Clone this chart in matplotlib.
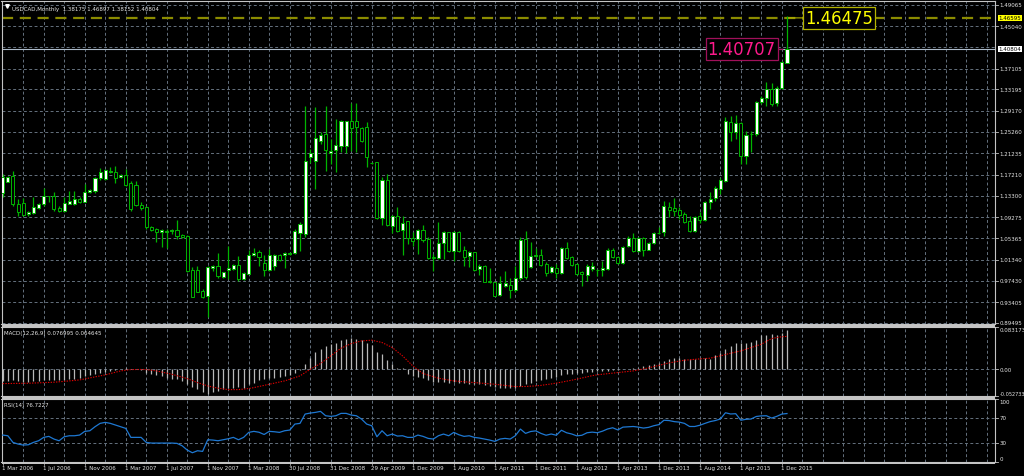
import matplotlib
matplotlib.use("Agg")
import matplotlib.pyplot as plt
import matplotlib.transforms as mtransforms
from matplotlib.patches import Rectangle

# ---------------- data ----------------
opens = [1.1376,1.1594,1.1694,1.1176,1.1195,1.0983,1.1014,1.1102,1.1170,1.1320,
 1.1332,1.1108,1.1039,1.1176,1.1176,1.1276,1.1220,1.1395,1.1420,1.1663,
 1.1644,1.1782,1.1769,1.1676,1.1719,1.1563,1.1532,1.1158,1.1114,1.0752,
 1.0708,1.0652,1.0646,1.0671,1.0684,1.0596,1.0571,0.9947,0.9941,0.9554,
 0.9461,0.9979,1.0010,0.9804,0.9935,0.9960,1.0035,0.9773,0.9872,1.0228,
 1.0272,1.0072,0.9947,1.0022,1.0222,1.0215,1.0240,1.0253,1.0634,1.0615,
 1.2050,1.1987,1.2350,1.2487,1.2131,1.2187,1.2262,1.2268,1.2724,1.2724,
 1.2593,1.2624,1.1950,1.1956,1.0908,1.1632,1.0771,1.0958,1.0690,1.0852,
 1.0546,1.0521,1.0696,1.0521,1.0178,1.0166,1.0440,1.0646,1.0290,1.0659,
 1.0316,1.0197,1.0272,0.9960,1.0022,0.9741,0.9710,0.9473,0.9648,0.9660,
 0.9561,0.9791,1.0521,1.0003,1.0197,1.0228,1.0053,0.9897,0.9972,0.9885,
 1.0347,1.0178,1.0053,0.9897,0.9848,0.9960,0.9941,0.9947,0.9960,1.0322,
 1.0191,1.0072,1.0384,1.0534,1.0303,1.0540,1.0322,1.0446,1.0634,1.0646,
 1.1126,1.1102,1.1064,1.0989,1.0852,1.0665,1.0946,1.0883,1.1208,1.1283,
 1.1457,1.1601,1.2705,1.2518,1.2686,1.2081,1.2480,1.2487,1.3092,1.3154,
 1.3329,1.3060,1.3347,1.38175]
highs = [1.1738,1.1707,1.1788,1.1270,1.1282,1.1052,1.1301,1.1189,1.1470,1.1332,
 1.1395,1.1145,1.1301,1.1426,1.1414,1.1301,1.1551,1.1457,1.1682,1.1844,
 1.1831,1.1863,1.1881,1.1738,1.1831,1.1601,1.1601,1.1208,1.1133,1.0771,
 1.0733,1.0715,1.0708,1.0708,1.0883,1.0615,1.0596,0.9991,1.0022,0.9586,
 1.0022,1.0035,1.0259,0.9910,1.0384,1.0053,1.0209,0.9910,1.0322,1.0347,
 1.0322,1.0222,1.0334,1.0240,1.0240,1.0284,1.0272,1.0708,1.0846,1.3016,
 1.2206,1.2986,1.2517,1.3005,1.2393,1.2767,1.2748,1.2736,1.3067,1.3067,
 1.2611,1.2717,1.1969,1.1969,1.1676,1.1738,1.0970,1.1114,1.0958,1.0864,
 1.0646,1.0709,1.0783,1.0553,1.0241,1.0846,1.0677,1.0659,1.0677,1.0677,
 1.0384,1.0303,1.0284,1.0053,1.0035,0.9972,0.9723,0.9835,0.9928,0.9785,
 1.0022,1.0553,1.0677,1.0459,1.0347,1.0334,1.0085,1.0022,1.0053,1.0365,
 1.0459,1.0209,1.0072,0.9928,1.0053,1.0085,0.9960,1.0116,1.0347,1.0347,
 1.0209,1.0397,1.0584,1.0627,1.0553,1.0553,1.0471,1.0646,1.0740,1.1239,
 1.1220,1.1289,1.1114,1.1021,1.0958,1.0958,1.1021,1.1239,1.1395,1.1507,
 1.1657,1.2798,1.2829,1.2842,1.2705,1.2549,1.2549,1.3110,1.3192,1.3466,
 1.3441,1.3391,1.3859,1.46897]
lows = [1.1301,1.1582,1.1145,1.0958,1.0958,1.0958,1.0989,1.1083,1.1145,1.1220,
 1.1039,1.1033,1.1020,1.1170,1.1158,1.1201,1.1208,1.1376,1.1376,1.1632,
 1.1632,1.1757,1.1563,1.1657,1.1520,1.1052,1.1145,1.1064,1.0708,1.0677,
 1.0471,1.0365,1.0347,1.0615,1.0521,1.0534,0.9910,0.9430,0.9523,0.9417,
 0.9055,0.9929,0.9785,0.9785,0.9773,0.9941,0.9729,0.9760,0.9860,1.0209,
 1.0010,0.9822,0.9916,0.9947,1.0116,0.9979,1.0222,1.0240,1.0303,1.0559,
 1.1944,1.1457,1.2299,1.1800,1.1925,1.1775,1.2144,1.2131,1.2174,1.2144,
 1.2343,1.1863,1.1919,1.0896,1.0783,1.0758,1.0634,1.0646,1.0228,1.0428,
 1.0397,1.0241,1.0459,1.0147,0.9928,1.0147,1.0147,1.0272,1.0116,1.0272,
 1.0022,0.9991,0.9928,0.9848,0.9710,0.9698,0.9448,0.9461,0.9617,0.9411,
 0.9536,0.9760,0.9772,0.9985,1.0178,1.0022,0.9835,0.9879,0.9785,0.9866,
 1.0147,1.0022,0.9848,0.9648,0.9741,0.9928,0.9835,0.9822,0.9947,1.0160,
 1.0053,1.0053,1.0365,1.0284,1.0272,1.0197,1.0309,1.0428,1.0609,1.0584,
 1.0927,1.0946,1.0896,1.0821,1.0646,1.0646,1.0821,1.0852,1.1083,1.1239,
 1.1364,1.1582,1.2362,1.2393,1.1925,1.1925,1.2143,1.2455,1.3048,1.3017,
 1.3004,1.3017,1.3329,1.38152]
closes = [1.1676,1.1682,1.1176,1.1020,1.0977,1.1033,1.1114,1.1170,1.1332,1.1326,
 1.1083,1.1039,1.1189,1.1232,1.1270,1.1214,1.1407,1.1432,1.1670,1.1769,
 1.1813,1.1788,1.1670,1.1726,1.1538,1.1083,1.1164,1.1108,1.0746,1.0690,
 1.0659,1.0690,1.0677,1.0690,1.0571,1.0553,0.9929,0.9442,0.9536,0.9442,
 0.9991,1.0010,0.9822,0.9897,0.9972,1.0041,0.9773,0.9885,1.0228,1.0266,
 1.0184,0.9947,1.0222,1.0222,1.0134,1.0253,1.0253,1.0677,1.0802,1.1987,
 1.2125,1.2412,1.2473,1.2187,1.2174,1.2281,1.2730,1.2724,1.2599,1.2624,
 1.2362,1.2050,1.1944,1.0915,1.1632,1.0783,1.0946,1.0677,1.0821,1.0540,
 1.0484,1.0696,1.0509,1.0166,1.0172,1.0440,1.0646,1.0303,1.0659,1.0303,
 1.0191,1.0272,0.9947,1.0022,0.9723,0.9710,0.9461,0.9698,0.9692,0.9561,
 0.9791,1.0509,0.9804,1.0203,1.0222,1.0041,0.9885,0.9997,0.9879,1.0347,
 1.0166,1.0041,0.9866,0.9860,1.0022,1.0022,0.9947,0.9979,1.0322,1.0178,
 1.0072,1.0378,1.0534,1.0303,1.0540,1.0322,1.0446,1.0634,1.0640,1.1145,
 1.1070,1.1052,1.0977,1.0833,1.0665,1.0927,1.0883,1.1208,1.1270,1.1470,
 1.1626,1.2724,1.2518,1.2686,1.2081,1.2468,1.2493,1.3092,1.3154,1.3329,
 1.3048,1.3347,1.3828,1.40804]

macd_main = [-0.0230,-0.0230,-0.0217,-0.0230,-0.0243,-0.0243,-0.0230,-0.0230,-0.0217,-0.0210,
 -0.0217,-0.0217,-0.0204,-0.0197,-0.0184,-0.0164,-0.0131,-0.0112,-0.0085,-0.0066,
 -0.0046,-0.0033,-0.0020,0.0000,0.0020,0.0013,0.0000,-0.0020,-0.0066,-0.0099,
 -0.0112,-0.0138,-0.0164,-0.0184,-0.0197,-0.0230,-0.0283,-0.0348,-0.0394,-0.0440,
 -0.0480,-0.0440,-0.0430,-0.0394,-0.0374,-0.0361,-0.0348,-0.0361,-0.0296,-0.0263,
 -0.0210,-0.0197,-0.0177,-0.0164,-0.0151,-0.0131,-0.0112,-0.0066,-0.0020,0.0112,
 0.0230,0.0348,0.0394,0.0460,0.0506,0.0526,0.0572,0.0591,0.0611,0.0591,
 0.0572,0.0526,0.0480,0.0348,0.0309,0.0177,0.0112,0.0033,0.0020,-0.0085,
 -0.0131,-0.0151,-0.0177,-0.0217,-0.0243,-0.0243,-0.0243,-0.0263,-0.0243,-0.0263,
 -0.0263,-0.0283,-0.0283,-0.0296,-0.0309,-0.0329,-0.0348,-0.0361,-0.0361,-0.0361,
 -0.0361,-0.0330,-0.0300,-0.0270,-0.0240,-0.0210,-0.0190,-0.0170,-0.0150,-0.0120,
 -0.0100,-0.0090,-0.0080,-0.0080,-0.0060,-0.0050,-0.0040,-0.0033,-0.0033,-0.0020,
 -0.0013,0.0000,0.0013,0.0020,0.0033,0.0066,0.0079,0.0099,0.0131,0.0164,
 0.0197,0.0217,0.0217,0.0210,0.0197,0.0197,0.0210,0.0217,0.0210,0.0276,
 0.0329,0.0394,0.0460,0.0526,0.0512,0.0526,0.0539,0.0578,0.0670,0.0670,
 0.0690,0.0670,0.0723,0.076995]
macd_signal = [-0.0283,-0.0282,-0.0281,-0.0279,-0.0277,-0.0276,-0.0272,-0.0268,-0.0264,-0.0260,
 -0.0256,-0.0248,-0.0240,-0.0230,-0.0220,-0.0210,-0.0190,-0.0170,-0.0151,-0.0131,
 -0.0112,-0.0086,-0.0060,-0.0033,-0.0020,-0.0007,-0.0005,-0.0005,-0.0007,-0.0020,
 -0.0033,-0.0055,-0.0077,-0.0099,-0.0127,-0.0156,-0.0184,-0.0224,-0.0263,-0.0296,
 -0.0329,-0.0352,-0.0374,-0.0388,-0.0401,-0.0401,-0.0401,-0.0391,-0.0381,-0.0362,
 -0.0340,-0.0318,-0.0296,-0.0274,-0.0252,-0.0230,-0.0197,-0.0164,-0.0131,-0.0066,
 0.0000,0.0056,0.0112,0.0188,0.0263,0.0339,0.0414,0.0460,0.0506,0.0532,
 0.0558,0.0565,0.0572,0.0549,0.0526,0.0477,0.0427,0.0345,0.0263,0.0165,
 0.0066,-0.0010,-0.0085,-0.0116,-0.0146,-0.0177,-0.0195,-0.0212,-0.0230,-0.0238,
 -0.0246,-0.0255,-0.0263,-0.0271,-0.0280,-0.0288,-0.0296,-0.0308,-0.0319,-0.0331,
 -0.0342,-0.0342,-0.0340,-0.0335,-0.0328,-0.0318,-0.0305,-0.0290,-0.0273,-0.0255,
 -0.0236,-0.0216,-0.0195,-0.0173,-0.0150,-0.0127,-0.0110,-0.0099,-0.0088,-0.0077,
 -0.0066,-0.0055,-0.0044,-0.0033,-0.0013,0.0006,0.0026,0.0051,0.0075,0.0100,
 0.0125,0.0142,0.0160,0.0177,0.0186,0.0195,0.0204,0.0210,0.0217,0.0240,
 0.0263,0.0289,0.0315,0.0338,0.0361,0.0394,0.0427,0.0460,0.0493,0.0548,
 0.0604,0.0624,0.0640,0.064645]
rsi_values = [42.3,41.2,30.6,27.9,26.3,26.8,30.6,33.2,38.6,40.2,
 35.9,33.2,39.6,41.2,41.2,42.3,48.2,49.2,55.6,61.0,
 62.6,61.0,58.3,55.6,53.0,38.6,38.6,38.6,30.6,29.5,
 29.5,29.5,29.5,29.5,29.0,25.2,18.3,14.0,17.2,16.2,
 34.8,34.3,33.2,34.8,36.4,38.6,34.8,38.6,46.6,48.2,
 46.8,43.2,48.2,47.6,46.6,49.2,50.3,59.9,61.0,75.9,
 77.5,78.6,80.2,73.2,72.2,73.2,77.0,77.0,74.3,73.2,
 67.9,59.9,57.2,39.6,49.2,41.2,43.9,40.7,41.2,38.6,
 38.6,42.3,40.2,37.0,35.9,41.2,43.9,41.2,46.6,42.8,
 40.2,41.2,38.6,37.5,35.9,34.3,32.2,35.9,37.0,35.9,
 41.2,51.9,45.0,48.0,49.0,45.0,42.0,44.0,42.0,50.0,
 46.0,44.0,41.0,42.0,46.0,47.0,46.0,48.5,52.0,54.0,
 50.5,55.0,55.5,56.0,55.0,53.5,54.6,57.2,59.0,66.0,
 65.5,63.8,63.0,61.0,56.0,56.0,58.0,61.0,63.8,65.5,
 68.0,78.0,76.0,76.5,66.0,67.5,68.0,72.0,73.0,73.2,
 69.5,72.2,75.9,76.7227]

date_labels = ["1 Mar 2006", "1 Jul 2006", "1 Nov 2006", "1 Mar 2007", "1 Jul 2007",
               "1 Nov 2007", "1 Mar 2008", "30 Jul 2008", "31 Dec 2008", "29 Apr 2009",
               "1 Dec 2009", "1 Aug 2010", "1 Apr 2011", "1 Dec 2011", "1 Aug 2012",
               "1 Apr 2013", "1 Dec 2013", "1 Aug 2014", "1 Apr 2015", "1 Dec 2015"]
price_ticks = [1.49065, 1.45040, 1.37105, 1.33195, 1.29170, 1.25260, 1.21235, 1.17210,
               1.13300, 1.09275, 1.05365, 1.01340, 0.97430, 0.93405, 0.89495]
price_grid = [1.49065, 1.45040, 1.41130, 1.37105, 1.33195, 1.29170, 1.25260, 1.21235,
              1.17210, 1.13300, 1.09275, 1.05365, 1.01340, 0.97430, 0.93405, 0.89495]
macd_ticks = [0.083173, 0.00, -0.052733]
rsi_ticks = [100, 70, 30, 0]
ask_line = 1.46595
bid_line = 1.40804
high_label = 1.46475
low_label = 1.40707
header = "USDCAD,Monthly  1.38175 1.46897 1.38152 1.40804"
macd_title = "MACD(12,26,9) 0.076995 0.064645"
rsi_title = "RSI(14) 76.7227"

# ---------------- style ----------------
W, H = 1024, 477
BG = "#000000"
GRID = "#65717e"
FRAME = "#c4c4c4"
GREEN = "#00b400"
TXT = "#e6e6e6"
FONT = "DejaVu Sans"
SMALL = 4.0
plt.rcParams["font.family"] = FONT

fig = plt.figure(figsize=(W / 100, H / 100), dpi=100, facecolor=BG)

def rect(x0, y0, x1, y1):
    return [x0 / W, 1 - y1 / H, (x1 - x0) / W, (y1 - y0) / H]

ax = fig.add_axes(rect(1.5, 1.5, 995, 325))
axm = fig.add_axes(rect(1.5, 328, 995, 397), sharex=ax)
axr = fig.add_axes(rect(1.5, 400, 995, 462.5), sharex=ax)

n = len(closes)
xs = list(range(n))
x_left = (1.5 - 2.7) / 5.126
x_right = (995 - 2.7) / 5.126

for a in (ax, axm, axr):
    a.set_facecolor(BG)
    a.set_xlim(x_left, x_right)
    a.tick_params(left=False, right=False, bottom=False, top=False,
                  labelleft=False, labelbottom=False)
    for s in a.spines.values():
        s.set_color(FRAME)
        s.set_linewidth(0.8)
    for k in range(4, int(x_right) + 1, 4):
        a.axvline(k, color=GRID, lw=0.7, ls=(0, (3, 2.5)), zorder=0)

ax.set_ylim(0.89305, 1.49851)
axm.set_ylim(-0.052733, 0.083173)
axr.set_ylim(0, 100)

for p in price_grid:
    ax.axhline(p, color=GRID, lw=0.7, ls=(0, (3, 2.5)), zorder=0)
axm.axhline(0.0, color=GRID, lw=0.7, ls=(0, (3, 2.5)), zorder=0)
for lv in (70, 30):
    axr.axhline(lv, color=GRID, lw=0.7, ls=(0, (3, 2.5)), zorder=0)

# candles
ax.vlines(xs, lows, highs, color=GREEN, lw=0.9, zorder=2)
body_w = 0.6
min_h = 0.0009
for i in xs:
    o, c = opens[i], closes[i]
    lo, hi = min(o, c), max(o, c)
    if hi - lo < min_h:
        mid = (hi + lo) / 2
        lo, hi = mid - min_h / 2, mid + min_h / 2
    face = "#ffffff" if c >= o else "#000000"
    ax.add_patch(Rectangle((i - body_w / 2, lo), body_w, hi - lo, facecolor=face,
                           edgecolor=GREEN, lw=0.7, zorder=3))

# price lines
ax.axhline(ask_line, color="#8c8c00", lw=1.6, ls=(0, (5, 3)), zorder=1)
ax.axhline(bid_line, color="#aebccb", lw=0.8, zorder=1)

# label boxes for high / low
ax.annotate("1.46475", xy=(n - 1 + 0.3, high_label + 0.0012), xytext=(n - 1 + 3.5, high_label + 0.0012),
            color="#ffff00", fontsize=11.9, va="center", ha="left", zorder=6,
            bbox=dict(boxstyle="square,pad=0.12", fc=BG, ec="#b4b400", lw=0.9),
            arrowprops=dict(arrowstyle="-", color="#b4b400", lw=0.8, shrinkA=0, shrinkB=0))
ax.annotate("1.40707", xy=(n - 1 - 0.8, low_label), xytext=(n - 1 - 2.2, low_label),
            color="#ff1a8c", fontsize=11.9, va="center", ha="right", zorder=6,
            bbox=dict(boxstyle="square,pad=0.12", fc=BG, ec="#a0105a", lw=0.9),
            arrowprops=dict(arrowstyle="-", color="#a0105a", lw=0.8, shrinkA=0, shrinkB=0))

# MACD
axm.vlines(xs, 0, macd_main, color="#b8b8b8", lw=0.9, zorder=2)
axm.plot(xs, macd_signal, color="#e00000", lw=0.8, ls=(0, (1.2, 1.2)), zorder=3)

# RSI
axr.plot(xs, rsi_values, color="#1e78d2", lw=0.9, zorder=3)

# right-side scale labels
def right_labels(a, vals, fmt, vas=None, sizes=None):
    tr = mtransforms.blended_transform_factory(a.transAxes, a.transData)
    for j, v in enumerate(vals):
        va = vas[j] if vas else "center"
        fs = sizes[j] if sizes else SMALL
        a.text(1.0045, v, fmt(v), transform=tr, color=TXT, fontsize=fs,
               ha="left", va=va, clip_on=False)
        a.plot([1.0, 1.003], [v, v], transform=tr, color=FRAME, lw=0.6, clip_on=False)

right_labels(ax, price_ticks, lambda v: f"{v:.5f}")
right_labels(axm, macd_ticks, lambda v: ("0.00" if v == 0 else f"{v:.6f}"),
             ["top", "center", "bottom"], [SMALL, SMALL, 3.6])
right_labels(axr, rsi_ticks, lambda v: f"{v:d}", ["top", "center", "center", "bottom"])

trm = mtransforms.blended_transform_factory(ax.transAxes, ax.transData)
ax.text(1.0035, ask_line, f"{ask_line:.5f}", transform=trm, color="#000000", fontsize=SMALL,
        ha="left", va="center", clip_on=False,
        bbox=dict(boxstyle="square,pad=0.15", fc="#ffff00", ec="none"))
ax.text(1.0035, bid_line, f"{bid_line:.5f}", transform=trm, color="#000000", fontsize=SMALL,
        ha="left", va="center", clip_on=False,
        bbox=dict(boxstyle="square,pad=0.15", fc="#ffffff", ec="none"))

# titles
ax.text(0.0105, 0.984, header, transform=ax.transAxes, color=TXT, fontsize=SMALL,
        ha="left", va="top")
ax.plot([0.0055], [0.9835], marker="v", ms=2.6, color="#ffffff", transform=ax.transAxes,
        clip_on=False)
axm.text(0.003, 0.95, macd_title, transform=axm.transAxes, color=TXT, fontsize=SMALL,
         ha="left", va="top")
axr.text(0.003, 0.95, rsi_title, transform=axr.transAxes, color=TXT, fontsize=SMALL,
         ha="left", va="top")

# date labels
trd = mtransforms.blended_transform_factory(axr.transData, axr.transAxes)
for k, lab in enumerate(date_labels):
    xpos = 8 * k
    axr.text(xpos - 0.2, -0.05, lab, transform=trd, color=TXT, fontsize=SMALL,
             ha="left", va="top", clip_on=False)
    axr.plot([xpos, xpos], [0, -0.05], transform=trd, color=FRAME, lw=0.5, clip_on=False)

# panel separators
for (y0, y1) in ((325, 327.6), (397, 399.6), (462.5, 464.5)):
    fig.add_artist(Rectangle((1.5 / W, 1 - y1 / H), (995 - 1.5) / W, (y1 - y0) / H,
                             transform=fig.transFigure, fc=FRAME, ec="none"))

fig.savefig("out.png", dpi=100, facecolor=BG)
